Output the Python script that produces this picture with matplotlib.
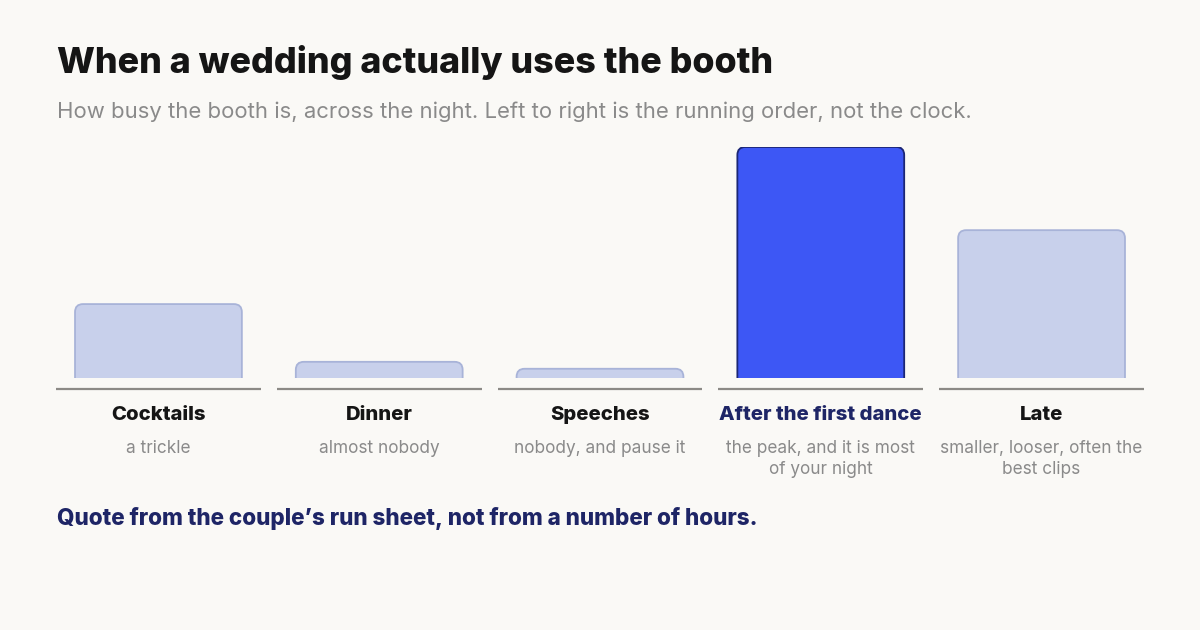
import matplotlib.pyplot as plt
import matplotlib.transforms as mtransforms
from matplotlib.patches import FancyBboxPatch

# data
phases = ["Cocktails", "Dinner", "Speeches", "After the first dance", "Late"]
notes = ["a trickle", "almost nobody", "nobody, and pause it",
         "the peak, and it is most\nof your night",
         "smaller, looser, often the\nbest clips"]
busy = [32, 7, 4, 100, 64]
peak = 3

W, H = 1200, 630
bg = "#faf9f6"
light = "#c8d0eb"
light_edge = "#a8b3d8"
hi = "#3d57f5"
hi_edge = "#1b2675"
navy = "#1e2566"
grey = "#8a8a8a"

plt.rcParams['font.family'] = ['Inter', 'DejaVu Sans']

fig = plt.figure(figsize=(12, 6.3), dpi=100, facecolor=bg)

def fy(py):
    return 1 - py / H

# axes: value 0 at y=378px, value 100 at y=147px
ax = fig.add_axes([56 / W, fy(378), 1088 / W, (378 - 147) / H])
ax.set_facecolor(bg)
ax.set_xlim(-0.464, 4.464)
ax.set_ylim(0, 100)
ax.axis("off")

col_w = 205 / 221
bar_w = 167 / 221
px_x = 221.0            # px per x unit
px_y = 231.0 / 100      # px per y unit
r = 8 / px_x
aspect = (8 / px_y) / r

for i, v in enumerate(busy):
    is_peak = i == peak
    p = FancyBboxPatch((i - bar_w / 2, -20), bar_w, v + 20,
                       boxstyle="round,pad=0,rounding_size=%f" % r,
                       mutation_aspect=aspect,
                       facecolor=hi if is_peak else light,
                       edgecolor=hi_edge if is_peak else light_edge,
                       linewidth=1.3)
    ax.add_patch(p)

tr = mtransforms.blended_transform_factory(ax.transData, fig.transFigure)
for i in range(len(phases)):
    ax.plot([i - col_w / 2, i + col_w / 2], [fy(389), fy(389)], color="#8c8a86",
            lw=1.6, solid_capstyle="butt", transform=tr, clip_on=False)
    ax.text(i, fy(415), phases[i], transform=tr, ha="center", va="center",
            fontsize=14.6, fontweight=800, color=navy if i == peak else "#151515")
    ax.text(i, fy(440), notes[i], transform=tr, ha="center", va="top",
            fontsize=12.4, color=grey, linespacing=1.3)

fig.text(57 / W, fy(62), "When a wedding actually uses the booth", ha="left", va="center",
         fontsize=25.8, fontweight=800, color="#151515")
fig.text(57 / W, fy(112), "How busy the booth is, across the night. Left to right is the running order, not the clock.",
         ha="left", va="center", fontsize=15.9, color=grey)
fig.text(57 / W, fy(519), "Quote from the couple\u2019s run sheet, not from a number of hours.",
         ha="left", va="center", fontsize=16.2, fontweight=800, color=navy)

fig.savefig("out.png", dpi=100, facecolor=bg)
